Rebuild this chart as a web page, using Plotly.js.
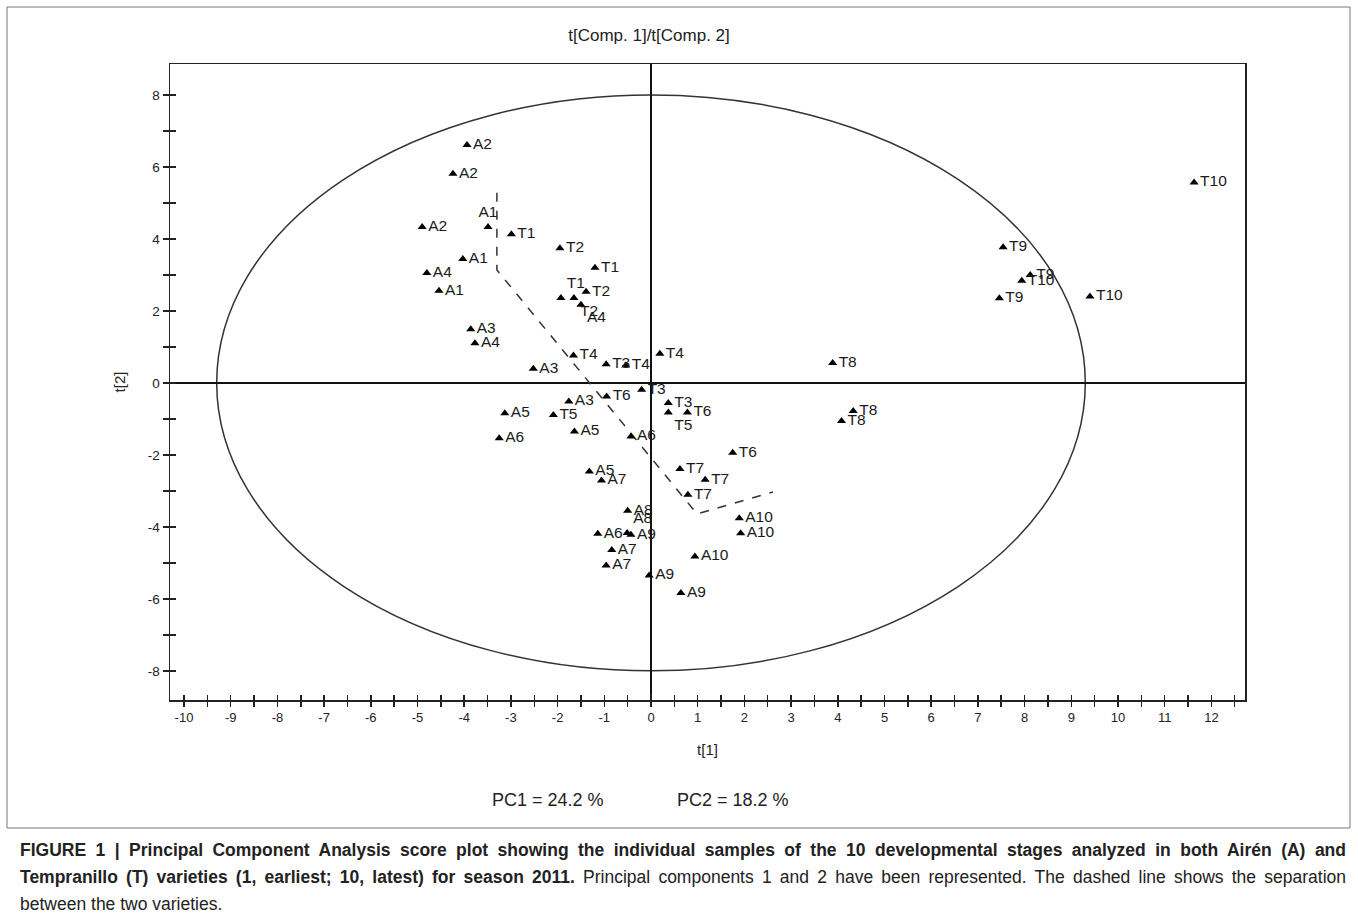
<!DOCTYPE html>
<html>
<head>
<meta charset="utf-8">
<script src="https://cdn.plot.ly/plotly-3.0.1.min.js"></script>
<style>
html,body{margin:0;padding:0;background:#fff;}
#wrap{position:relative;width:1358px;height:919px;}
#chart{position:absolute;left:0;top:0;width:1358px;height:919px;}
#caption{position:absolute;left:20px;top:837px;width:1326px;font-family:"Liberation Sans",Arial,sans-serif;color:#222;line-height:27px;}
#caption .ln{white-space:nowrap;font-size:17.5px;}
#caption .just{text-align:justify;text-align-last:justify;white-space:normal;}
#caption b{font-size:17.5px;}
</style>
</head>
<body>
<div id="wrap">
<div id="chart"></div>
<div id="caption"></div>
</div>
<script>
// Airén (A) sample scores
const aLabels = ["A1","A1","A1","A2","A2","A2","A3","A3","A3","A4","A4","A4","A5","A5","A5","A6","A6","A6","A7","A7","A7","A8","A8","A9","A9","A9","A10","A10","A10"];
const aX = [-3.49,-4.03,-4.54,-3.94,-4.24,-4.90,-3.86,-2.52,-1.76,-4.80,-3.77,-1.50,-3.13,-1.64,-1.32,-3.25,-0.43,-1.14,-1.06,-0.84,-0.96,-0.50,-0.51,-0.43,-0.04,0.64,1.89,1.92,0.94];
const aY = [4.33,3.44,2.56,6.61,5.81,4.33,1.49,0.39,-0.52,3.05,1.10,2.17,-0.84,-1.35,-2.46,-1.54,-1.49,-4.19,-2.71,-4.64,-5.07,-3.55,-4.17,-4.22,-5.35,-5.84,-3.76,-4.18,-4.82];
const aLabelPos = ["top center","middle right","middle right","middle right","middle right","middle right","middle right","middle right","middle right","middle right","middle right","bottom right","middle right","middle right","middle right","middle right","middle right","middle right","middle right","middle right","middle right","middle right","top right","middle right","middle right","middle right","middle right","middle right","middle right"];

// Tempranillo (T) sample scores
const tLabels = ["T1","T1","T1","T2","T2","T2","T3","T3","T3","T4","T4","T4","T5","T5","T6","T6","T6","T7","T7","T7","T8","T8","T8","T9","T9","T9","T10","T10","T10"];
const tX = [-2.99,-1.20,-1.93,-1.95,-1.39,-1.65,-0.96,-0.20,0.37,-1.66,-0.54,0.19,-2.09,0.37,-0.95,0.78,1.75,0.62,1.16,0.79,3.89,4.33,4.08,7.54,8.12,7.46,7.94,9.40,11.63];
const tY = [4.13,3.20,2.36,3.74,2.53,2.36,0.52,-0.19,-0.56,0.76,0.48,0.81,-0.89,-0.82,-0.38,-0.82,-1.94,-2.39,-2.69,-3.11,0.55,-0.78,-1.06,3.77,3.00,2.35,2.84,2.40,5.57];
const tLabelPos = ["middle right","middle right","top right","middle right","middle right","bottom right","middle right","middle right","middle right","middle right","middle right","middle right","middle right","bottom right","middle right","middle right","middle right","middle right","middle right","middle right","middle right","middle right","middle right","middle right","middle right","middle right","middle right","middle right","middle right"];

// Dashed separation line between varieties
const sepX = [-3.30,-3.30,0.985,2.61];
const sepY = [5.28,3.14,-3.64,-3.03];

// Hotelling ellipse semi-axes
const ellipseA = 9.3;
const ellipseB = 8.0;

// Tick labels (plain hyphen minus as in the original)
const xTickVals = [-10,-9,-8,-7,-6,-5,-4,-3,-2,-1,0,1,2,3,4,5,6,7,8,9,10,11,12];
const xTickText = ["-10","-9","-8","-7","-6","-5","-4","-3","-2","-1","0","1","2","3","4","5","6","7","8","9","10","11","12"];
const yTickVals = [-8,-6,-4,-2,0,2,4,6,8];
const yTickText = ["-8","-6","-4","-2","0","2","4","6","8"];

const titleText = "t[Comp. 1]/t[Comp. 2]";
const xTitle = "t[1]";
const yTitle = "t[2]";
const pc1Text = "PC1 = 24.2 %";
const pc2Text = "PC2 = 18.2 %";
const captionBold1 = "FIGURE 1 | Principal Component Analysis score plot showing the individual samples of the 10 developmental stages analyzed in both Airén (A) and";
const captionBold2 = "Tempranillo (T) varieties (1, earliest; 10, latest) for season 2011.";
const captionRest2 = "Principal components 1 and 2 have been represented. The dashed line shows the separation";
const captionLine3 = "between the two varieties.";

const FONT = "Liberation Sans, Arial, sans-serif";
const xRange = [-10.30, 12.72];
const yRange = [-8.81, 8.86];

const markerStyle = {symbol: "triangle-up", size: 8, color: "#000"};
const textStyle = {family: FONT, size: 15.5, color: "#1a1a1a"};

const traces = [
  {x: sepX, y: sepY, mode: "lines", line: {color: "#333", width: 1.5, dash: "dash"}, hoverinfo: "skip", showlegend: false},
  {x: aX, y: aY, text: aLabels, mode: "markers+text", textposition: aLabelPos, marker: markerStyle, textfont: textStyle, showlegend: false, cliponaxis: false},
  {x: tX, y: tY, text: tLabels, mode: "markers+text", textposition: tLabelPos, marker: markerStyle, textfont: textStyle, showlegend: false, cliponaxis: false},
  {x: [null], y: [null], xaxis: "x2", yaxis: "y2", mode: "markers", hoverinfo: "skip", showlegend: false}
];

const L = 170, R = 1245, T = 64, B = 700;
const PW = R - L, PH = B - T;
const px = v => (v - L) / PW;
const py = v => (B - v) / PH;

const layout = {
  width: 1358, height: 919,
  margin: {l: L, r: 1358 - R, t: T, b: 919 - B},
  paper_bgcolor: "rgba(0,0,0,0)", plot_bgcolor: "#fff",
  font: {family: FONT, color: "#222"},
  title: {text: titleText, font: {family: FONT, size: 17, color: "#222"}, x: px(649), xref: "paper", xanchor: "center", y: 1 - 35 / 919, yref: "container", yanchor: "middle"},
  xaxis: {
    range: xRange, tickmode: "array", tickvals: xTickVals, ticktext: xTickText,
    ticks: "outside", ticklen: 5, tickwidth: 1.5, tickcolor: "#222",
    minor: {dtick: 0.5, tick0: 0, ticks: "outside", ticklen: 5, tickwidth: 1.5, tickcolor: "#222", showgrid: false},
    showline: true, linecolor: "#222", linewidth: 1.5, mirror: true, showgrid: false,
    zeroline: true, zerolinecolor: "#111", zerolinewidth: 1.5,
    tickfont: {family: FONT, size: 13, color: "#222"},
    title: {text: xTitle, font: {family: FONT, size: 15, color: "#222"}, standoff: 20}
  },
  yaxis: {
    range: yRange, tickmode: "array", tickvals: yTickVals, ticktext: yTickText,
    ticks: "outside", ticklen: 6, tickwidth: 1.5, tickcolor: "#222",
    minor: {dtick: 1, tick0: 0, ticks: "outside", ticklen: 6, tickwidth: 1.5, tickcolor: "#222", showgrid: false},
    showline: true, linecolor: "#222", linewidth: 1.5, mirror: true, showgrid: false,
    zeroline: true, zerolinecolor: "#111", zerolinewidth: 1.5,
    tickfont: {family: FONT, size: 13.5, color: "#222"},
    title: {text: yTitle, font: {family: FONT, size: 15, color: "#222"}, standoff: 18}
  },
  xaxis2: {range: xRange, overlaying: "x", anchor: "y", side: "bottom", dtick: 0.5, tick0: 0, ticks: "inside", ticklen: 5, tickwidth: 1.5, tickcolor: "#222", showticklabels: false, showgrid: false, zeroline: false, showline: false},
  yaxis2: {range: yRange, overlaying: "y", anchor: "x", side: "left", dtick: 1, tick0: 0, ticks: "inside", ticklen: 6, tickwidth: 1.5, tickcolor: "#222", showticklabels: false, showgrid: false, zeroline: false, showline: false},
  shapes: [
    {type: "circle", xref: "x", yref: "y", x0: -ellipseA, x1: ellipseA, y0: -ellipseB, y1: ellipseB, line: {color: "#333", width: 1.5}, layer: "below"},
    {type: "rect", xref: "paper", yref: "paper", x0: px(7), x1: px(1350), y0: py(828), y1: py(7), line: {color: "#777", width: 1}, layer: "below"}
  ],
  annotations: [
    {text: pc1Text, xref: "paper", yref: "paper", x: px(548), y: py(800), xanchor: "center", yanchor: "middle", showarrow: false, font: {family: FONT, size: 18, color: "#222"}},
    {text: pc2Text, xref: "paper", yref: "paper", x: px(733), y: py(800), xanchor: "center", yanchor: "middle", showarrow: false, font: {family: FONT, size: 18, color: "#222"}}
  ]
};

// Caption block (justified like the journal figure)
const cap = document.getElementById("caption");
const l1 = document.createElement("div"); l1.className = "ln just";
const b1 = document.createElement("b"); b1.textContent = captionBold1; l1.appendChild(b1);
const l2 = document.createElement("div"); l2.className = "ln just";
const b2 = document.createElement("b"); b2.textContent = captionBold2; l2.appendChild(b2);
l2.appendChild(document.createTextNode(" " + captionRest2));
const l3 = document.createElement("div"); l3.className = "ln"; l3.textContent = captionLine3;
cap.appendChild(l1); cap.appendChild(l2); cap.appendChild(l3);

Plotly.newPlot("chart", traces, layout, {displayModeBar: false, staticPlot: true});
</script>
</body>
</html>
